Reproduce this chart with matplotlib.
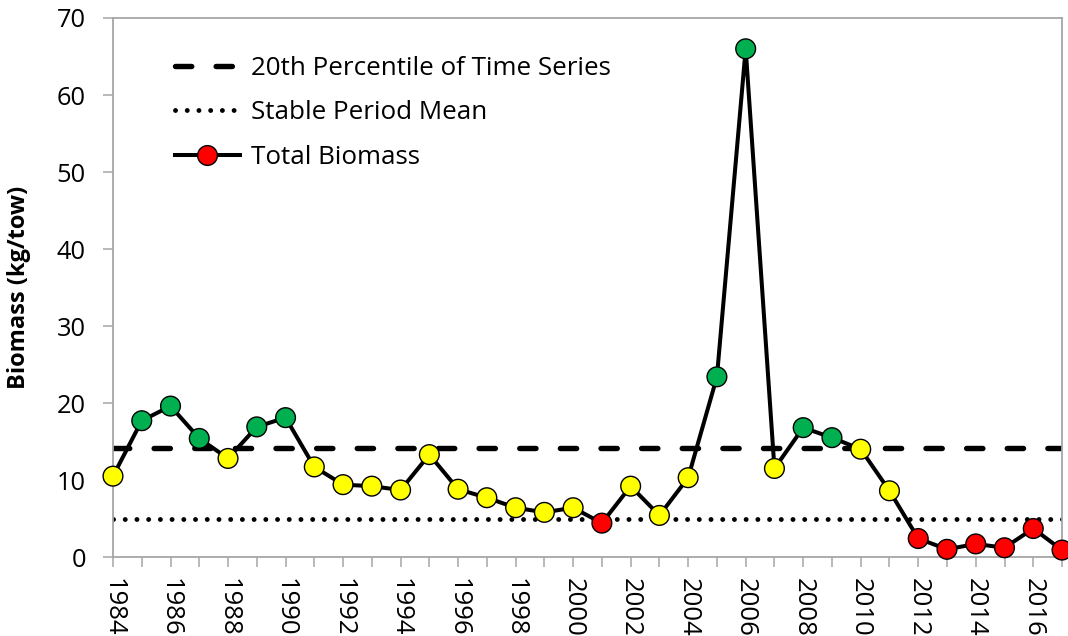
import matplotlib
matplotlib.use("Agg")
import matplotlib.pyplot as plt
from matplotlib.lines import Line2D

plt.rcParams['font.family'] = ['Open Sans', 'DejaVu Sans']

years = list(range(1984, 2018))
biomass = [10.5, 17.7, 19.6, 15.4, 12.8, 16.9, 18.1, 11.7, 9.4, 9.2,
           8.7, 13.3, 8.8, 7.7, 6.4, 5.8, 6.4, 4.4, 9.2, 5.4,
           10.3, 23.4, 66.0, 11.5, 16.8, 15.5, 14.0, 8.6, 2.4, 1.0,
           1.7, 1.2, 3.7, 0.9]
percentile_20 = 14.15
stable_mean = 4.95

GREEN, YELLOW, RED = '#00B050', '#FFFF00', '#FF0000'
AXIS_GREY = '#A6A6A6'

DASH_STYLE = dict(color='black', lw=3.9, dashes=(3.0, 4.5), dash_capstyle='round')
DOT_STYLE = dict(color='black', lw=3.5, dashes=(0.01, 2.4), dash_capstyle='round')


def status_colour(v):
    if v >= percentile_20:
        return GREEN
    if v >= stable_mean:
        return YELLOW
    return RED


fig = plt.figure(figsize=(10.68, 6.36), dpi=100)
ax = fig.add_axes([0.1058, 0.1242, 0.8886, 0.8475])

ax.axhline(percentile_20, zorder=2, **DASH_STYLE)
ax.axhline(stable_mean, zorder=2, **DOT_STYLE)
ax.plot(years, biomass, color='black', lw=2.9, zorder=3)
ax.scatter(years, biomass, s=14.2 ** 2, c=[status_colour(v) for v in biomass],
           edgecolors='black', linewidths=1.0, zorder=4, clip_on=False)

ax.set_xlim(1984, 2017)
ax.set_ylim(0, 70)
ax.set_yticks(range(0, 71, 10))
ax.set_xticks(years)
ax.set_xticklabels([str(y) if (y - 1984) % 2 == 0 else '' for y in years],
                   rotation=270, va='top', ha='center')

for s in ax.spines.values():
    s.set_color(AXIS_GREY)
    s.set_linewidth(1.3)
ax.tick_params(axis='both', colors=AXIS_GREY, labelcolor='black',
               length=7, width=1.1, direction='out')
ax.tick_params(axis='y', pad=12.5, labelsize=18.3)
ax.tick_params(axis='x', pad=8, labelsize=18.5)

ax.set_ylabel('Biomass (kg/tow)', fontsize=17, fontweight='bold')
ax.yaxis.set_label_coords(-0.086, 0.5)

handles = [
    Line2D([], [], **DASH_STYLE),
    Line2D([], [], **DOT_STYLE),
    Line2D([], [], color='black', lw=2.9, marker='o', markersize=14.2,
           markerfacecolor=RED, markeredgecolor='black', markeredgewidth=1.0),
]
labels = ['20th Percentile of Time Series', 'Stable Period Mean', 'Total Biomass']
ax.legend(handles, labels, loc='upper left', bbox_to_anchor=(0.065, 0.93),
          frameon=False, fontsize=18.7, handlelength=2.5, handletextpad=0.42,
          labelspacing=0.75, borderpad=0, borderaxespad=0)

fig.savefig('out.png', dpi=100)
